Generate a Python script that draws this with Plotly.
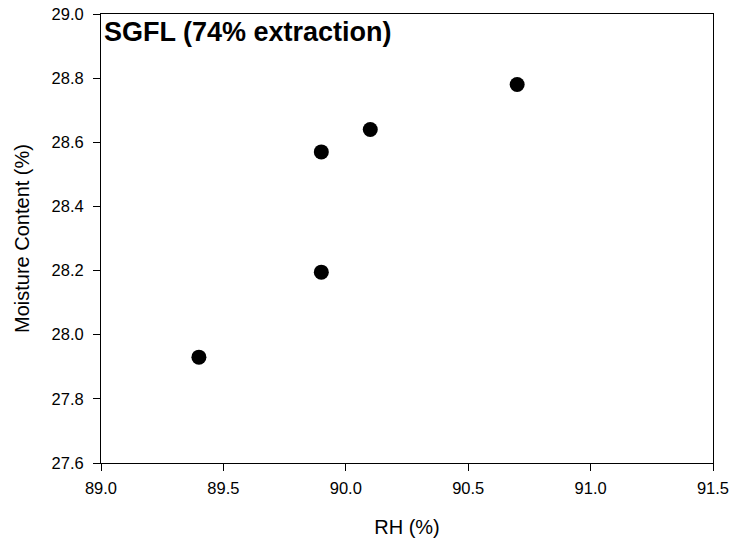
import plotly.graph_objects as go

rh = [89.4, 89.9, 89.9, 90.1, 90.7]
moisture = [27.93, 28.195, 28.57, 28.64, 28.78]
title_text = "SGFL (74% extraction)"
x_ticks = [89.0, 89.5, 90.0, 90.5, 91.0, 91.5]
y_ticks = [27.6, 27.8, 28.0, 28.2, 28.4, 28.6, 28.8, 29.0]

fig = go.Figure()
fig.add_trace(go.Scatter(
    x=rh, y=moisture, mode="markers",
    marker=dict(color="black", size=15, line=dict(width=0)),
    showlegend=False, cliponaxis=False,
))

font_family = "Liberation Sans, Arial, sans-serif"
axis_common = dict(
    showline=True, linecolor="black", linewidth=1, mirror=True,
    ticks="outside", ticklen=7, tickcolor="black", tickwidth=1,
    showgrid=False, zeroline=False, automargin=False,
    ticklabeloverflow="allow",
    tickfont=dict(family=font_family, size=16.5, color="black"),
)
fig.update_xaxes(
    range=[89.0, 91.5], tickvals=x_ticks,
    ticktext=[f"{v:.1f}" for v in x_ticks],
    ticklabelstandoff=3,
    title=dict(text="RH (%)", font=dict(family=font_family, size=20, color="black"), standoff=24),
    **axis_common,
)
fig.update_yaxes(
    range=[27.6, 29.0], tickvals=y_ticks,
    ticktext=[f"{v:.1f}" for v in y_ticks],
    ticklabelstandoff=6,
    title=dict(text="Moisture Content (%)", font=dict(family=font_family, size=20, color="black"), standoff=16),
    **axis_common,
)
fig.add_annotation(
    text=f"<b>{title_text}</b>", xref="paper", yref="paper",
    x=0, y=1, xanchor="left", yanchor="top", xshift=1, yshift=-1,
    showarrow=False,
    font=dict(family=font_family, size=27, color="black"),
)
fig.update_layout(
    width=734, height=543,
    margin=dict(l=101, r=21, t=14, b=80),
    plot_bgcolor="white", paper_bgcolor="white",
)
fig.write_html(
    "out.html",
    config={"displayModeBar": False},
    post_script="document.body.style.margin='0';document.body.style.overflow='hidden';",
)
